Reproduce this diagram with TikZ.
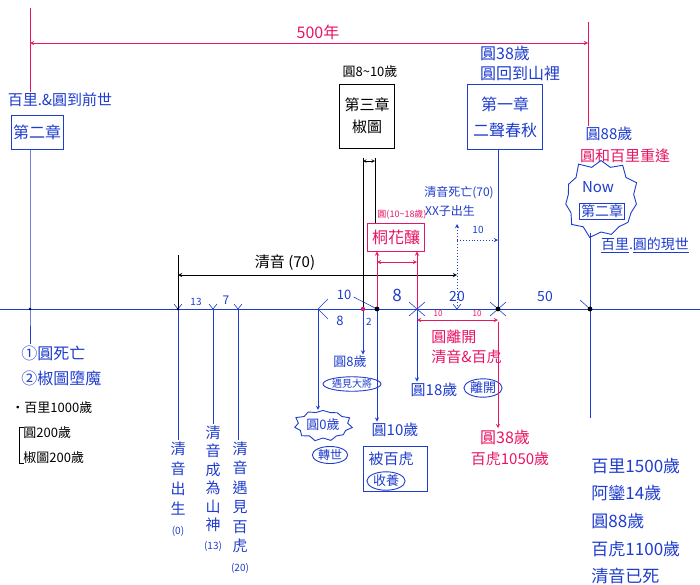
\documentclass[tikz,border=0pt]{standalone}
\usepackage{fontspec}
\setmainfont{Noto Sans CJK TC}
\usetikzlibrary{positioning, arrows, shapes.symbols, shapes.geometric}
\definecolor{penblue}{RGB}{30,60,205}
\definecolor{penred}{RGB}{232,20,100}

\begin{document}
\begin{tikzpicture}[x=1pt,y=-1pt,>=stealth,line width=0.9pt,
    every node/.style={inner sep=1pt},
    hand/.style={font=\fontsize{#1}{#1}\selectfont},
    hand/.default=15,
    blu/.style={hand=#1,text=penblue}, blu/.default=15,
    rd/.style={hand=#1,text=penred}, rd/.default=15,
    blk/.style={hand=#1,text=black}, blk/.default=13,
    bbox/.style={draw=penblue,text=penblue,inner sep=2pt,align=center},
    oval/.style={ellipse,draw=penblue,text=penblue,inner sep=0.5pt},
    burst/.style={starburst,draw=penblue,fill=white,starburst points=11,
                  starburst point height=7pt,random starburst=#1},
    vert/.style={text=penblue,align=center,anchor=north},
    tick/.style={penblue,line width=0.6pt}]
  \useasboundingbox (0,0) rectangle (700,584);

  % points on the time line
  \coordinate (tl)  at (0,309);
  \coordinate (tr)  at (700,309);
  \coordinate (p0)  at (30,309);
  \coordinate (p1)  at (178,309);
  \coordinate (p2)  at (213,309);
  \coordinate (p3)  at (238,309);
  \coordinate (p4)  at (318,309);
  \coordinate (p5)  at (363,309);
  \coordinate (p6)  at (377,309);
  \coordinate (p7)  at (417,309);
  \coordinate (p8)  at (457,309);
  \coordinate (p9)  at (498,309);
  \coordinate (p10) at (590,309);
  \draw[penblue] (tl) -- (tr);

  % 500 years
  \coordinate (sa) at (30,43);
  \coordinate (sb) at (588,43);
  \coordinate (ra) at (30,8);
  \coordinate (rb) at (588,22);
  \node[rd=16] (span) at (318,32) {500年};
  \draw[penred,<->] (sa) -- (sb);

  % left: past life
  \node[blu] (past) at (60,100) {百里.\&圓到前世};
  \node[bbox,font=\fontsize{16}{16}\selectfont,minimum width=51pt,minimum height=34pt] (ch2a) at (37,132) {第二章};
  \draw[penred] (ra) -- (ra |- past.north);
  \node[blu=16,anchor=west] (dead1) at (20,353) {①圓死亡};
  \node[blu=16,anchor=west] (dead2) at (20,378) {②椒圖墮魔};
  \draw[penblue] (ch2a.south -| p0) -- (p0) -- (dead1.north -| p0);
  \node[blk,anchor=west] (age1) at (10,408) {・百里1000歲};
  \node[blk,anchor=west] (age2) at (22,433) {圓200歲};
  \node[blk,anchor=west] (age3) at (22,458) {椒圖200歲};
  \draw[line width=0.6pt] (age2.north west) ++(2,2) -- ++(-5,0) |- ([shift={(2,-2)}]age3.south west);

  % qingyin
  \coordinate (q0)  at (178,275);
  \coordinate (q70) at (457,275);
  \coordinate (qt)  at (178,255);
  \node[blk=15] (qlife) at (285,263) {清音 (70)};
  \draw[<->] (q0) -- (q70);
  \draw (qt) -- (p1);
  \node[vert,font=\fontsize{15}{20}\selectfont] (qy0) at (178,440) {清\\音\\出\\生\\{\fontsize{10}{12}\selectfont(0)}};
  \node[vert,font=\fontsize{15}{18.5}\selectfont] (qy13) at (213,424) {清\\音\\成\\為\\山\\神\\{\fontsize{10}{12}\selectfont(13)}};
  \node[vert,font=\fontsize{15}{19.5}\selectfont] (qy20) at (240,440) {清\\音\\遇\\見\\百\\虎\\{\fontsize{10}{12}\selectfont(20)}};
  \draw[penblue] (p1) -- (qy0.north);
  \draw[penblue] (p2) -- (qy13.north -| p2);
  \draw[penblue] (p3) -- (qy20.north -| p3);
  \node[blu=10] (d13) at (196,302) {13};
  \node[blu=12] (d7) at (226,300) {7};

  % chapter three
  \node[blk] (ch3age) at (370,72) {圓8\textasciitilde10歲};
  \node[draw,align=center,font=\fontsize{15}{22}\selectfont,minimum width=55pt,minimum height=64pt] (ch3) at (367,116) {第三章\\椒圖};
  \coordinate (c1) at (363,158);
  \coordinate (c2) at (375,158);
  \coordinate (c1a) at (363,161);
  \coordinate (c2a) at (375,161);
  \node[rd=9] (thage) at (402,215) {圓(10\textasciitilde18歲)};
  \node[draw=penred,text=penred,font=\fontsize{16}{16}\selectfont,minimum width=57pt,minimum height=28pt] (thbox) at (396,237) {桐花釀};
  \draw (c1) -- (p5);
  \draw (c2) -- (thbox.north -| c2);
  \draw[<->,line width=0.6pt] (c1a) -- (c2a);
  \draw[penred,<-] (thbox.south -| p6) -- (p6);
  \draw[penred,<-] (thbox.south -| p7) -- (p7);
  \coordinate (h1) at (377,262);
  \coordinate (h2) at (417,262);
  \draw[penred,<->] (h1) -- (h2);

  % chapter one
  \node[blu=16] (ch1age) at (505,53) {圓38歲};
  \node[blu=16] (ch1back) at (520,73) {圓回到山裡};
  \node[bbox,font=\fontsize{16}{26}\selectfont,minimum width=75pt,minimum height=65pt] (ch1) at (505,117) {第一章\\二聲春秋};
  \draw[penblue] (ch1.south -| p9) -- (p9);
  \node[blu=12] (qdie) at (459,193) {清音死亡(70)};
  \node[blu=12] (xxborn) at (450,211) {XX子出生};
  \coordinate (u1) at (457,224);
  \coordinate (u2) at (457,240);
  \coordinate (u3) at (498,240);
  \draw[penblue,dotted,->] (p8) -- (u1);
  \draw[penblue,dotted,->] (u2) -- (u3);
  \node[blu=10] (d10b) at (478,230) {10};

  % now
  \node[blu] (age88) at (609,134) {圓88歲};
  \node[rd] (meet) at (625,156) {圓和百里重逢};
  \draw[penred] (rb) -- (rb |- age88.north);
  \node[burst=5,minimum width=84pt,minimum height=84pt,starburst point height=9pt] (nowb) at (601,199) {};
  \node[blu=15] (now) at (598,187) {Now};
  \node[bbox,font=\fontsize{14}{14}\selectfont,inner sep=1.5pt] (ch2b) at (602,211) {第二章};
  \node[blu=14] (pres) at (645,245) {\underline{百里}.\underline{圓的現世}};
  \coordinate (p10b) at (590,418);
  \draw[penblue] (nowb.south -| p10) -- (p10) -- (p10b);
  \node[blu=17,anchor=west] (e1) at (590,466) {百里1500歲};
  \node[blu=17,anchor=west] (e2) at (590,493) {阿鑾14歲};
  \node[blu=17,anchor=west] (e3) at (590,521) {圓88歲};
  \node[blu=17,anchor=west] (e4) at (590,549) {百虎1100歲};
  \node[blu=17,anchor=west] (e5) at (590,576) {清音已死};

  % below the line
  \node[blu=13] (age8) at (350,362) {圓8歲};
  \node[oval,font=\fontsize{10}{10}\selectfont] (snake) at (352,384) {遇見大將};
  \draw[penblue,->] (p5) -- (age8.north -| p5);
  \node[burst=3,text=penblue,font=\fontsize{13}{13}\selectfont,minimum width=58pt,minimum height=36pt,starburst point height=5pt] (age0) at (323,425) {圓0歲};
  \node[oval,font=\fontsize{12}{12}\selectfont] (rebirth) at (330,455) {轉世};
  \draw[penblue,->] (p4) -- (age0.north -| p4);
  \node[blu] (age10) at (395,430) {圓10歲};
  \node[draw=penblue,minimum width=64pt,minimum height=45pt] (bx10) at (395,469) {};
  \node[blu] (raised) at (391,459) {被百虎};
  \node[oval,font=\fontsize{13}{13}\selectfont] (adopt) at (386,481) {收養};
  \draw[penblue,->] (p6) -- (age10.north -| p6);
  \node[blu] (age18) at (434,390) {圓18歲};
  \node[oval,font=\fontsize{13}{13}\selectfont] (leave) at (483,388) {離開};
  \draw[penblue,->] (p7) -- (age18.north -| p7);
  \coordinate (l1) at (417,320);
  \coordinate (l2) at (498,320);
  \coordinate (l3) at (498,322);
  \draw[penred,<->] (l1) -- (l2);
  \node[rd=8] (d10l) at (438,314) {10};
  \node[rd=8] (d10r) at (477,314) {10};
  \node[rd,anchor=west] (goes1) at (430,337) {圓離開};
  \node[rd,anchor=west] (goes2) at (430,357) {清音\&百虎};
  \node[rd=16] (age38r) at (505,437) {圓38歲};
  \node[rd] (tiger) at (510,459) {百虎1050歲};
  \draw[penred,->] (l3) -- (age38r.north -| p9);

  % spans on the line
  \node[blu=13] (d10) at (344,295) {10};
  \node[blu=13] (d8a) at (340,321) {8};
  \node[blu=10] (d2) at (369,322) {2};
  \node[blu=17] (d8b) at (397,295) {8};
  \node[blu=14] (d20) at (457,297) {20};
  \node[blu=14] (d50) at (545,297) {50};
  \draw[tick] (p4) -- ++(10,-10) (p4) -- ++(10,10);
  \draw[tick] (d10.east) ++(1,2) -- (p6);
  \foreach \p in {p7,p9}
    \draw[tick] (\p) ++(-8,-7) -- ++(16,14) (\p) ++(8,-7) -- ++(-16,14);
  \foreach \p in {p1,p2,p3,p8}
    \draw[tick] (\p) ++(-4,-5) -- (\p) -- ++(4,-5);
  \draw[tick] (p10) -- ++(-10,-9);
  \fill[penred] (p5) circle (2.2pt);
  \foreach \p in {p6,p9,p10}
    \fill (\p) circle (2.4pt);
  \foreach \p in {p0,p1}
    \fill (\p) circle (1.3pt);
\end{tikzpicture}
\end{document}
